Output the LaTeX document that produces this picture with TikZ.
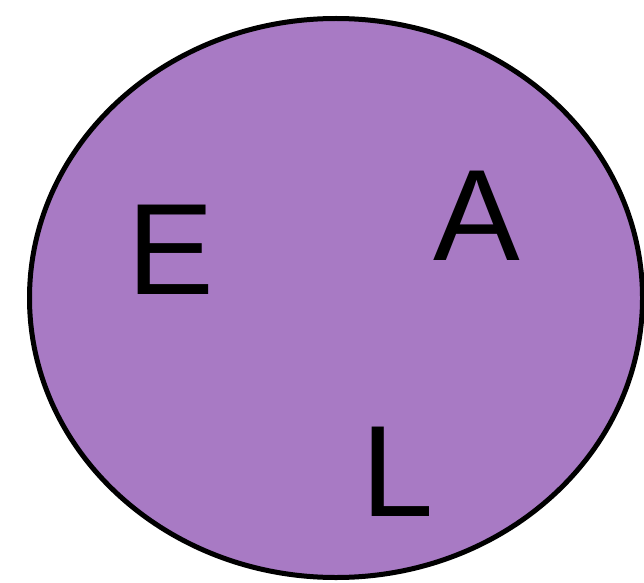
\documentclass[tikz,border=0pt]{standalone}
\usepackage{fontspec}
\setmainfont{Liberation Sans}
\definecolor{blobpurple}{RGB}{168,122,196}
\begin{document}
\begin{tikzpicture}[x=1pt,y=1pt,
  letter/.style={inner sep=0pt, font=\fontsize{130}{130}\selectfont, text=black}]
\useasboundingbox (0,0) rectangle (644,582);
\draw[line width=5pt, fill=blobpurple] (336,284) ellipse [x radius=306.5, y radius=279.5];
\node[letter] (e) at (171,332) {E};
\node[letter] (a) at (477,366) {A};
\node[letter] (l) at (398,110) {L};
\end{tikzpicture}
\end{document}
